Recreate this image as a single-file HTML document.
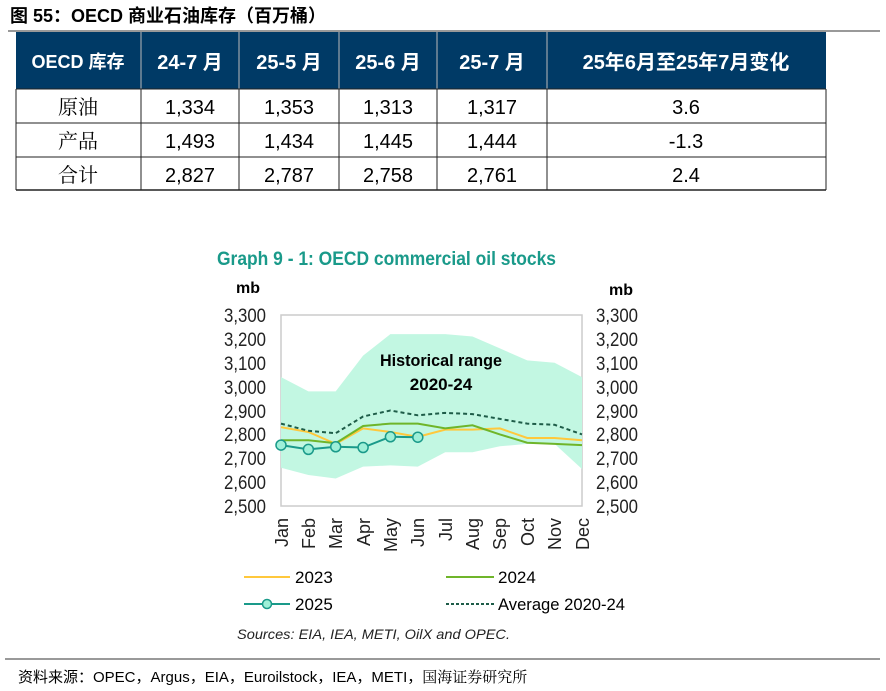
<!DOCTYPE html>
<html><head><meta charset="utf-8"><style>
body{margin:0;background:#fff;width:886px;height:691px;overflow:hidden}
svg{display:block}
</style></head><body>
<svg width="886" height="691" xmlns="http://www.w3.org/2000/svg" font-family="'Liberation Sans','Noto Sans CJK SC',sans-serif">
<text x="10" y="22" font-size="18" font-weight="bold" fill="#000">图 55：OECD 商业石油库存（百万桶）</text>
<line x1="8" y1="31" x2="880" y2="31" stroke="#333" stroke-width="1"/>
<rect x="16" y="32" width="810" height="57" fill="#003a66"/>
<g stroke="#bbb" stroke-width="1">
<line x1="141" y1="32" x2="141" y2="89"/><line x1="239" y1="32" x2="239" y2="89"/><line x1="339" y1="32" x2="339" y2="89"/><line x1="437" y1="32" x2="437" y2="89"/><line x1="547" y1="32" x2="547" y2="89"/>
</g>
<g stroke="#222" stroke-width="1" fill="none">
<line x1="16" y1="89" x2="826" y2="89"/><line x1="16" y1="123" x2="826" y2="123"/><line x1="16" y1="157" x2="826" y2="157"/><line x1="16" y1="190" x2="826" y2="190" stroke-width="1.5"/>
<line x1="16" y1="89" x2="16" y2="190"/><line x1="141" y1="89" x2="141" y2="190"/><line x1="239" y1="89" x2="239" y2="190"/><line x1="339" y1="89" x2="339" y2="190"/><line x1="437" y1="89" x2="437" y2="190"/><line x1="547" y1="89" x2="547" y2="190"/><line x1="826" y1="89" x2="826" y2="190"/>
</g>
<g fill="#fff" font-weight="bold" font-size="20" text-anchor="middle">
<text x="78" y="68" font-size="18">OECD 库存</text><text x="190" y="69">24-7 月</text><text x="289" y="69">25-5 月</text><text x="388" y="69">25-6 月</text><text x="492" y="69">25-7 月</text><text x="686" y="69">25年6月至25年7月变化</text>
</g>
<g fill="#000" font-size="20" text-anchor="middle">
<text x="78" y="114" font-family="'Noto Serif CJK SC',serif">原油</text><text x="190" y="114">1,334</text><text x="289" y="114">1,353</text><text x="388" y="114">1,313</text><text x="492" y="114">1,317</text><text x="686" y="114">3.6</text>
<text x="78" y="148" font-family="'Noto Serif CJK SC',serif">产品</text><text x="190" y="148">1,493</text><text x="289" y="148">1,434</text><text x="388" y="148">1,445</text><text x="492" y="148">1,444</text><text x="686" y="148">-1.3</text>
<text x="78" y="182" font-family="'Noto Serif CJK SC',serif">合计</text><text x="190" y="182">2,827</text><text x="289" y="182">2,787</text><text x="388" y="182">2,758</text><text x="492" y="182">2,761</text><text x="686" y="182">2.4</text>
</g>
<text x="217" y="265" font-size="19" font-weight="bold" fill="#1a9a8a" textLength="339" lengthAdjust="spacingAndGlyphs">Graph 9 - 1: OECD commercial oil stocks</text>
<text x="236" y="293" font-size="16" font-weight="bold">mb</text>
<text x="609" y="295" font-size="16" font-weight="bold">mb</text>
<rect x="281" y="315" width="301" height="191" fill="#fff" stroke="#ccc" stroke-width="1.5"/>
<polygon fill="#c2f7e2" points="281,377.1 308.4,391.4 335.7,391.4 363.1,355.6 390.4,334.1 417.8,334.1 445.2,334.1 472.5,336.5 499.9,348.4 527.2,360.4 554.6,362.8 582,377.1 582,469 554.6,443.9 527.2,443.9 499.9,446.3 472.5,452.3 445.2,452.3 417.8,466.6 390.4,465.4 363.1,466.6 335.7,478.5 308.4,475 281,467.8"/>
<text x="441" y="366" font-size="17" font-weight="bold" text-anchor="middle" textLength="122" lengthAdjust="spacingAndGlyphs">Historical range</text>
<text x="441" y="390" font-size="17" font-weight="bold" text-anchor="middle">2020-24</text>
<polyline fill="none" stroke="#ffc83c" stroke-width="2" points="281,427.2 308.4,432 335.7,443.9 363.1,428.4 390.4,432 417.8,436.8 445.2,429.6 472.5,429.6 499.9,428.4 527.2,438 554.6,438 582,440.3"/>
<polyline fill="none" stroke="#6fb52a" stroke-width="2" points="281,440.3 308.4,440.3 335.7,443.2 363.1,426 390.4,423.6 417.8,423.6 445.2,428.4 472.5,425.3 499.9,434.4 527.2,442.7 554.6,443.9 582,445.1"/>
<polyline fill="none" stroke="#1e5c48" stroke-width="2" stroke-dasharray="4,3" points="281,423.6 308.4,430.8 335.7,433.2 363.1,416.5 390.4,410.5 417.8,415.3 445.2,412.9 472.5,414.1 499.9,418.9 527.2,423.6 554.6,424.8 582,434.4"/>
<polyline fill="none" stroke="#1a9a8a" stroke-width="2" points="281,445.1 308.4,449.4 335.7,446.8 363.1,447.5 390.4,436.8 417.8,437.2"/>
<g fill="#9ef0d8" stroke="#1a9a8a" stroke-width="1.5">
<circle cx="281" cy="445.1" r="5"/><circle cx="308.4" cy="449.4" r="5"/><circle cx="335.7" cy="446.8" r="5"/><circle cx="363.1" cy="447.5" r="5"/><circle cx="390.4" cy="436.8" r="5"/><circle cx="417.8" cy="437.2" r="5"/>
</g>
<g font-size="19" fill="#222" text-anchor="end">
<text x="266" y="322" textLength="42" lengthAdjust="spacingAndGlyphs">3,300</text><text x="266" y="346" textLength="42" lengthAdjust="spacingAndGlyphs">3,200</text><text x="266" y="370" textLength="42" lengthAdjust="spacingAndGlyphs">3,100</text><text x="266" y="394" textLength="42" lengthAdjust="spacingAndGlyphs">3,000</text><text x="266" y="418" textLength="42" lengthAdjust="spacingAndGlyphs">2,900</text><text x="266" y="441" textLength="42" lengthAdjust="spacingAndGlyphs">2,800</text><text x="266" y="465" textLength="42" lengthAdjust="spacingAndGlyphs">2,700</text><text x="266" y="489" textLength="42" lengthAdjust="spacingAndGlyphs">2,600</text><text x="266" y="513" textLength="42" lengthAdjust="spacingAndGlyphs">2,500</text>
</g>
<g font-size="19" fill="#222">
<text x="596" y="322" textLength="42" lengthAdjust="spacingAndGlyphs">3,300</text><text x="596" y="346" textLength="42" lengthAdjust="spacingAndGlyphs">3,200</text><text x="596" y="370" textLength="42" lengthAdjust="spacingAndGlyphs">3,100</text><text x="596" y="394" textLength="42" lengthAdjust="spacingAndGlyphs">3,000</text><text x="596" y="418" textLength="42" lengthAdjust="spacingAndGlyphs">2,900</text><text x="596" y="441" textLength="42" lengthAdjust="spacingAndGlyphs">2,800</text><text x="596" y="465" textLength="42" lengthAdjust="spacingAndGlyphs">2,700</text><text x="596" y="489" textLength="42" lengthAdjust="spacingAndGlyphs">2,600</text><text x="596" y="513" textLength="42" lengthAdjust="spacingAndGlyphs">2,500</text>
</g>
<g font-size="18" fill="#222" text-anchor="end">
<text transform="translate(288,518) rotate(-90)">Jan</text>
<text transform="translate(315,518) rotate(-90)">Feb</text>
<text transform="translate(342,518) rotate(-90)">Mar</text>
<text transform="translate(370,518) rotate(-90)">Apr</text>
<text transform="translate(397,518) rotate(-90)">May</text>
<text transform="translate(424,518) rotate(-90)">Jun</text>
<text transform="translate(452,518) rotate(-90)">Jul</text>
<text transform="translate(479,518) rotate(-90)">Aug</text>
<text transform="translate(506,518) rotate(-90)">Sep</text>
<text transform="translate(534,518) rotate(-90)">Oct</text>
<text transform="translate(561,518) rotate(-90)">Nov</text>
<text transform="translate(589,518) rotate(-90)">Dec</text>
</g>
<line x1="244" y1="577" x2="290" y2="577" stroke="#ffc83c" stroke-width="2"/>
<text x="295" y="583" font-size="17">2023</text>
<line x1="446" y1="577" x2="494" y2="577" stroke="#6fb52a" stroke-width="2"/>
<text x="498" y="583" font-size="17">2024</text>
<line x1="244" y1="604" x2="290" y2="604" stroke="#1a9a8a" stroke-width="2"/>
<circle cx="267" cy="604" r="4.5" fill="#9ef0d8" stroke="#1a9a8a" stroke-width="1.5"/>
<text x="295" y="610" font-size="17">2025</text>
<line x1="446" y1="604" x2="494" y2="604" stroke="#1e5c48" stroke-width="2" stroke-dasharray="3,2"/>
<text x="498" y="610" font-size="17" textLength="127" lengthAdjust="spacingAndGlyphs">Average 2020-24</text>
<text x="237" y="639" font-size="14" font-style="italic" fill="#222" textLength="273" lengthAdjust="spacingAndGlyphs">Sources: EIA, IEA, METI, OilX and OPEC.</text>
<line x1="5" y1="659" x2="880" y2="659" stroke="#333" stroke-width="1"/>
<text x="18" y="682" font-size="15" fill="#000">资料来源：OPEC，Argus，EIA，Euroilstock，IEA，METI，<tspan font-family="'Noto Serif CJK SC',serif">国海证券研究所</tspan></text>
</svg>
</body></html>
